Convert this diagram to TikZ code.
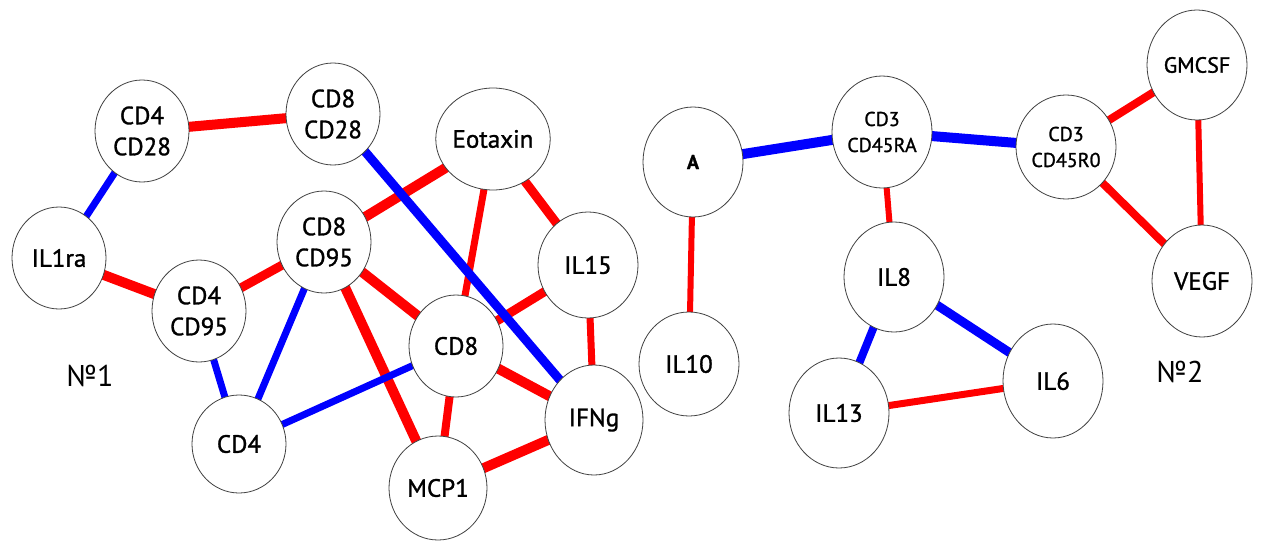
\documentclass[tikz,border=0pt]{standalone}
\usepackage{fontspec}
\setmainfont{PT Sans}[FakeBold=1.2]
\newfontfamily\plainfont{PT Sans}
\usetikzlibrary{shapes.geometric,backgrounds}

\tikzset{
  mol/.style={ellipse, draw=black!75, line width=0.8pt, fill=white,
    minimum width=94pt, minimum height=102pt, inner sep=0pt, align=center,
    font=\fontsize{25}{31}\selectfont},
  molr/.style={mol, minimum width=100pt, minimum height=110pt},
  small/.style={font=\fontsize{20}{26}\selectfont},
  redlink/.style={draw=red, line width=#1},
  redlink/.default=9pt,
  bluelink/.style={draw=blue, line width=#1},
  bluelink/.default=7pt,
  grouplabel/.style={font=\plainfont\fontsize{30}{34}\selectfont}
}

\begin{document}
\begin{tikzpicture}[x=1pt, y=-1pt]
    \useasboundingbox (0,0) rectangle (1261,541);

    % group 1
    \node[mol] (cd4cd28) at (142,131) {CD4\\CD28};
    \node[mol] (cd8cd28) at (333,114) {CD8\\CD28};
    \node[mol] (eotaxin) at (493,139) {Eotaxin};
    \node[mol] (il1ra) at (59,258) {IL1ra};
    \node[mol] (cd4cd95) at (199,311) {CD4\\CD95};
    \node[mol] (cd8cd95) at (324,242) {CD8\\CD95};
    \node[mol, minimum width=100pt, minimum height=106pt] (il15) at (588,265) {IL15};
    \node[mol] (cd8) at (456,346) {CD8};
    \node[mol, minimum width=98pt, minimum height=110pt] (ifng) at (594,420) {IFNg};
    \node[mol, minimum height=98pt] (cd4) at (239,444) {CD4};
    \node[mol, minimum width=98pt, minimum height=104pt] (mcp1) at (438,488) {MCP1};
    \node[grouplabel] (n1) at (90,376) {№1};

    % group 2
    \node[molr, font=\bfseries\fontsize{20}{22}\selectfont] (a) at (693,162) {A};
    \node[molr, minimum height=104pt] (il10) at (689,364) {IL10};
    \node[molr, small, minimum height=112pt] (cd45ra) at (882,132) {CD3\\CD45RA};
    \node[molr, small, minimum height=104pt] (cd45r0) at (1066,147) {CD3\\CD45R0};
    \node[molr, font=\fontsize{22}{26}\selectfont] (gmcsf) at (1197,65) {GMCSF};
    \node[molr, minimum height=112pt] (vegf) at (1202,281) {VEGF};
    \node[molr] (il8) at (894,277) {IL8};
    \node[molr] (il13) at (839,413) {IL13};
    \node[molr, minimum height=114pt] (il6) at (1053,381) {IL6};
    \node[grouplabel] (n2) at (1180,372) {№2};

    \begin{pgfonlayer}{background}
        \foreach \a/\b/\w in {cd4cd28/cd8cd28/10pt, il1ra/cd4cd95/10pt,
            cd4cd95/cd8cd95/9pt, cd8cd95/eotaxin/10pt, cd8cd95/cd8/10pt,
            cd8cd95/mcp1/10pt, eotaxin/cd8/7pt, eotaxin/il15/9pt,
            il15/cd8/9pt, il15/ifng/7pt, cd8/ifng/10pt, cd8/mcp1/8pt,
            mcp1/ifng/10pt, a/il10/6pt, cd45ra/il8/6pt, il13/il6/7pt,
            cd45r0/gmcsf/8pt, gmcsf/vegf/6pt, cd45r0/vegf/8pt}
            \draw[redlink=\w] (\a.center) -- (\b.center);
        \foreach \a/\b/\w in {il1ra/cd4cd28/7pt, cd4cd95/cd4/7pt,
            cd8cd95/cd4/7pt, cd4/cd8/7pt, cd8cd28/ifng/9pt,
            a/cd45ra/10pt, cd45ra/cd45r0/10pt, il8/il13/8pt, il8/il6/9pt}
            \draw[bluelink=\w] (\a.center) -- (\b.center);
    \end{pgfonlayer}
\end{tikzpicture}
\end{document}
